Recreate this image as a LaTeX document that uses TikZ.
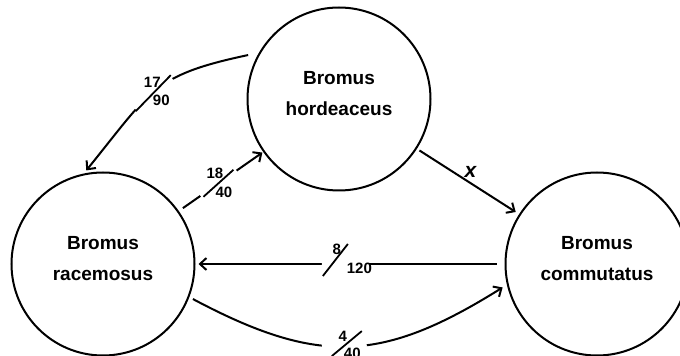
\documentclass[tikz,border=0pt]{standalone}
\usepackage{fontspec}
\setmainfont{Liberation Sans}
\usetikzlibrary{arrows.meta}

\tikzset{
  species/.style={circle, draw, line width=2pt, minimum size=183pt, inner sep=0pt,
    align=center, text depth=11pt, font=\fontsize{19}{31}\selectfont\bfseries},
  flow/.style={->, line width=2pt},
  breakgap/.style={circle, fill=white, inner sep=0pt, minimum size=#1},
  slashline/.style={line width=1.8pt},
  num/.style={inner sep=0pt, font=\fontsize{15}{15}\selectfont\bfseries},
}

\begin{document}
\begin{tikzpicture}[x=1pt, y=1pt, >={Straight Barb[length=6.5pt,width=12pt]}]
    \useasboundingbox (0,0) rectangle (680,356);

    \node[species] (hor) at (339,257) {Bromus\\hordeaceus};
    \node[species] (rac) at (103,92) {Bromus\\racemosus};
    \node[species] (com) at (597,92) {Bromus\\commutatus};

    % hordeaceus -> racemosus
    \draw[flow, shorten <=11pt, shorten >=4pt] (hor.150) to[out=192, in=51, looseness=1.3]
        node[breakgap=48pt, pos=.53] (g1) {} (rac.102);
    \draw[slashline] ([shift={(-17.5,-18)}]g1.center) -- ([shift={(17.5,18)}]g1.center);
    \node[num] (n17) at ([shift={(-1,10.5)}]g1.center) {17};
    \node[num] (n90) at ([shift={(8,-7.5)}]g1.center) {90};

    % racemosus -> hordeaceus
    \draw[flow, shorten <=5pt, shorten >=1pt] (rac) -- node[breakgap=44pt, pos=.47] (g2) {} (hor);
    \draw[slashline] ([shift={(-15,-13.5)}]g2.center) -- ([shift={(15,13.5)}]g2.center);
    \node[num] (n18) at ([shift={(-3.5,10)}]g2.center) {18};
    \node[num] (n40a) at ([shift={(5.5,-9)}]g2.center) {40};

    % hordeaceus -> commutatus
    \draw[flow, shorten <=3pt, shorten >=4pt] (hor) -- node[pos=.525, above=5pt, inner sep=0pt,
        font=\fontsize{21}{21}\selectfont\bfseries\itshape] (cross) {x} (com);

    % commutatus -> racemosus
    \draw[flow, shorten <=8pt, shorten >=3pt] (com) -- node[breakgap=47pt, pos=.515] (g3) {} (rac);
    \draw[slashline] ([shift={(-22.5,-12)}]g3.center) -- ([shift={(2.5,20)}]g3.center);
    \node[num] (n8) at ([shift={(-8.5,14.5)}]g3.center) {8};
    \node[num] (n120) at ([shift={(14,-4)}]g3.center) {120};

    % racemosus -> commutatus
    \draw[flow, shorten <=4pt, shorten >=5pt] (rac.-21) to[out=-28, in=-148, looseness=1.18]
        node[breakgap=45pt, pos=.48] (g4) {} (com.193);
    \draw[slashline] ([shift={(-12.5,-10)}]g4.center) -- ([shift={(17.5,15)}]g4.center);
    \node[num] (n4) at ([shift={(-1.5,9.5)}]g4.center) {4};
    \node[num] (n40b) at ([shift={(8,-7.5)}]g4.center) {40};
\end{tikzpicture}
\end{document}
